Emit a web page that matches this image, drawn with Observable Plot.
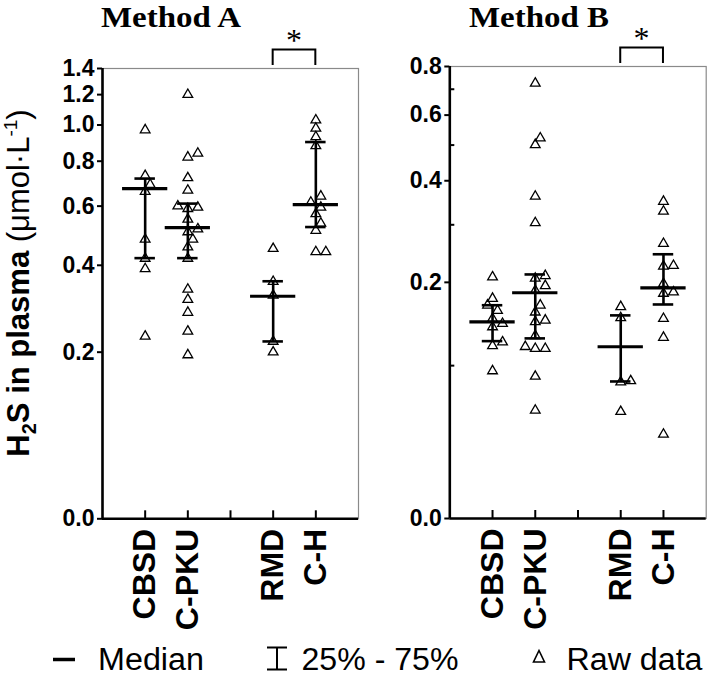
<!DOCTYPE html>
<html><head><meta charset="utf-8">
<script src="https://cdn.jsdelivr.net/npm/d3@7"></script>
<script src="https://cdn.jsdelivr.net/npm/@observablehq/plot@0.6"></script>
<style>
body{margin:0;background:#fff;}
#wrap{position:relative;width:709px;height:677px;overflow:hidden;}
.panel{position:absolute;top:0;}
#overlay{position:absolute;left:0;top:0;pointer-events:none;}
</style></head>
<body><div id="wrap"><div id="pA" class="panel" style="left:0px"></div><div id="pB" class="panel" style="left:349px"></div></div>
<script>
// ---------- data ----------
const categories = ["CBSD", "C-PKU", "", "RMD", "C-H"];
const groups = ["CBSD", "C-PKU", "RMD", "C-H"];
const panelTitles = ["Method A", "Method B"];
const significantPair = ["RMD", "C-H"];
const yTicksA = [0, 0.2, 0.4, 0.6, 0.8, 1.0, 1.2, 1.4];
const yTicksB = [0, 0.2, 0.4, 0.6, 0.8];
const yMinorB = [0.1, 0.3, 0.5, 0.7];

// Method A raw data
const rawA_CBSD = [0.97, 0.73, 0.69, 0.66, 0.48, 0.42, 0.39, 0.23];
const rawA_CPKU = [1.20, 0.84, 0.82, 0.72, 0.665, 0.60, 0.595, 0.59, 0.55, 0.515, 0.505, 0.48, 0.455, 0.42, 0.335, 0.31, 0.28, 0.24, 0.195];
const rawA_RMD = [0.45, 0.355, 0.32, 0.22, 0.20];
const rawA_CH = [1.03, 0.98, 0.93, 0.88, 0.64, 0.615, 0.595, 0.57, 0.535, 0.51, 0.44, 0.44];
const medianA = [0.672, 0.520, 0.318, 0.606];
const q1A = [0.421, 0.421, 0.220, 0.522];
const q3A = [0.717, 0.610, 0.356, 0.901];

// Method B raw data
const rawB_CBSD = [0.208, 0.177, 0.168, 0.161, 0.151, 0.145, 0.141, 0.124, 0.120, 0.095];
const rawB_CPKU = [0.725, 0.522, 0.501, 0.362, 0.304, 0.210, 0.206, 0.195, 0.188, 0.168, 0.159, 0.149, 0.147, 0.131, 0.119, 0.117, 0.117, 0.090, 0.062];
const rawB_RMD = [0.166, 0.152, 0.086, 0.085, 0.061];
const rawB_CH = [0.350, 0.328, 0.264, 0.226, 0.225, 0.198, 0.186, 0.184, 0.151, 0.129, 0.045];
const medianB = [0.147, 0.185, 0.119, 0.192];
const q1B = [0.125, 0.128, 0.0855, 0.169];
const q3B = [0.168, 0.212, 0.155, 0.245];

const legendLabels = ["Median", "25% - 75%", "Raw data"];

// ---------- drawing ----------
const FONT = '"Liberation Sans", Arial, sans-serif';

function makePanel({raws, med, lo, hi, max, ticks, minor, marginLeft, marginRight, marginTop, marginBottom}) {
  const W = 360, H = 640;
  const C = max / 10;
  const yLayout = Plot.scale({y: {type: "symlog", constant: C, domain: [0, max], range: [H - marginBottom, marginTop]}});
  const step = (W - marginLeft - marginRight) / 6;
  const xi = g => categories.indexOf(g) + 1;
  const cands = [0, 5, -5, 10, -10, 15, -15, 20, -20];
  const raw = [];
  groups.forEach((g, gi) => {
    const vals = raws[gi];
    const order = d3.range(vals.length).sort((a, b) => vals[a] - vals[b]);
    const placed = [];
    for (const i of order) {
      const py = yLayout.apply(vals[i]);
      let off = 0;
      for (const c of cands) {
        if (placed.every(p => Math.hypot(p.x - c, p.y - py) >= 8)) { off = c; break; }
      }
      placed.push({x: off, y: py});
      raw.push({group: g, value: vals[i], x: xi(g) + off / step});
    }
  });
  const stats = groups.map((g, gi) => ({group: g, i: xi(g), med: med[gi], lo: lo[gi], hi: hi[gi]}));
  const capW = 0.24, medW = 0.53;
  const plot = Plot.plot({
    width: W, height: H, marginLeft, marginRight, marginTop, marginBottom,
    style: {fontFamily: FONT, fontWeight: "bold", color: "black", background: "transparent"},
    x: {type: "linear", domain: [0, 6], axis: null},
    y: {type: "symlog", constant: C, domain: [0, max], axis: null},
    marks: [
      Plot.frame({stroke: "#8a8a8a", strokeWidth: 1.2}),
      Plot.axisY(ticks, {anchor: "left", tickSize: 5, tickPadding: 3, strokeWidth: 2, tickFormat: d3.format(".1f"), fontSize: 23, fontWeight: "bold", label: null}),
      ...(minor ? [Plot.axisY(minor, {anchor: "left", tickSize: -5, strokeWidth: 2, tickFormat: () => "", label: null})] : []),
      Plot.axisX([1, 2, 3, 4, 5], {anchor: "bottom", tickSize: -8, strokeWidth: 2, tickFormat: () => "", label: null}),
      Plot.axisX(groups.map(xi), {anchor: "bottom", tickSize: 0, tickPadding: 10, tickRotate: -90, tickFormat: i => categories[i - 1], fontSize: 32, fontWeight: "bold", label: null}),
      Plot.ruleX([0], {strokeWidth: 2.6}),
      Plot.ruleY([0], {strokeWidth: 2.6}),
      Plot.dot(raw, {x: "x", y: "value", symbol: "triangle", r: 3.6, stroke: "black", fill: "none", strokeWidth: 1.3}),
      Plot.ruleX(stats, {x: "i", y1: "lo", y2: "hi", strokeWidth: 2.6}),
      Plot.ruleY(stats, {y: "lo", x1: d => d.i - capW, x2: d => d.i + capW, strokeWidth: 2.6}),
      Plot.ruleY(stats, {y: "hi", x1: d => d.i - capW, x2: d => d.i + capW, strokeWidth: 2.6}),
      Plot.ruleY(stats, {y: "med", x1: d => d.i - medW, x2: d => d.i + medW, strokeWidth: 3.2})
    ]
  });
  // significance bracket drawn with the plot's own scales
  const xs = plot.scale("x"), ys = plot.scale("y");
  const xa = xs.apply(xi(significantPair[0])), xb = xs.apply(xi(significantPair[1]));
  const yTop = ys.apply(max);
  const g = d3.select(plot).append("g");
  g.append("path").attr("d", `M${xa},${yTop - 3}V${yTop - 18.5}H${xb}V${yTop - 3}`)
    .attr("fill", "none").attr("stroke", "black").attr("stroke-width", 2);
  g.append("text").attr("x", (xa + xb) / 2).attr("y", yTop - 17).attr("text-anchor", "middle")
    .attr("font-family", '"Liberation Serif", "Times New Roman", serif').attr("font-weight", "normal")
    .attr("font-size", 32).attr("fill", "black").text("*");
  return plot;
}

const plotA = makePanel({raws: [rawA_CBSD, rawA_CPKU, rawA_RMD, rawA_CH], med: medianA, lo: q1A, hi: q3A, max: 1.4,
  ticks: yTicksA, minor: null, marginLeft: 102, marginRight: 2, marginTop: 68, marginBottom: 121.7});
const plotB = makePanel({raws: [rawB_CBSD, rawB_CPKU, rawB_RMD, rawB_CH], med: medianB, lo: q1B, hi: q3B, max: 0.8,
  ticks: yTicksB, minor: yMinorB, marginLeft: 100.3, marginRight: 3.3, marginTop: 66, marginBottom: 122});
document.getElementById("pA").appendChild(plotA);
document.getElementById("pB").appendChild(plotB);

// ---------- titles, y label, legend ----------
const ov = d3.select("#wrap").append("svg").attr("id", "overlay").attr("width", 709).attr("height", 677);
[[171, panelTitles[0]], [539, panelTitles[1]]].forEach(([x, t]) => {
  ov.append("text").attr("x", x).attr("y", 26.5).attr("text-anchor", "middle")
    .attr("font-family", '"Liberation Serif", "Times New Roman", serif').attr("font-weight", "bold")
    .attr("font-size", 30).attr("textLength", 140).attr("lengthAdjust", "spacingAndGlyphs").text(t);
});
const yl = ov.append("text").attr("transform", "translate(28.5,283) rotate(-90)").attr("text-anchor", "middle")
  .attr("font-family", FONT).attr("font-size", 31);
yl.append("tspan").attr("font-weight", "bold").text("H");
yl.append("tspan").attr("font-weight", "bold").attr("font-size", 20).attr("dy", 7).text("2");
yl.append("tspan").attr("font-weight", "bold").attr("dy", -7).text("S in plasma ");
yl.append("tspan").text("(\u03bcmol\u00b7L");
yl.append("tspan").attr("font-size", 19).attr("dy", -12).text("-1");
yl.append("tspan").attr("dy", 12).text(")");

const lg = ov.append("g").attr("font-family", FONT).attr("font-size", 31);
const by = 670;
lg.append("line").attr("x1", 53).attr("x2", 75).attr("y1", by - 10.5).attr("y2", by - 10.5).attr("stroke", "black").attr("stroke-width", 3.5);
lg.append("text").attr("x", 98).attr("y", by).attr("textLength", 106).attr("lengthAdjust", "spacingAndGlyphs").text(legendLabels[0]);
lg.append("path").attr("d", `M267,${by - 22.5}H287M277,${by - 22.5}V${by - 0.5}M267,${by - 0.5}H287`).attr("stroke", "black").attr("stroke-width", 2).attr("fill", "none");
lg.append("text").attr("x", 301.5).attr("y", by).attr("textLength", 157).attr("lengthAdjust", "spacingAndGlyphs").text(legendLabels[1]);
lg.append("path").attr("d", `M539,${by - 19.5}L544.5,${by - 8}L533.5,${by - 8}Z`).attr("stroke", "black").attr("stroke-width", 1.6).attr("fill", "none");
lg.append("text").attr("x", 566.5).attr("y", by).attr("textLength", 136).attr("lengthAdjust", "spacingAndGlyphs").text(legendLabels[2]);
</script>
</body></html>
